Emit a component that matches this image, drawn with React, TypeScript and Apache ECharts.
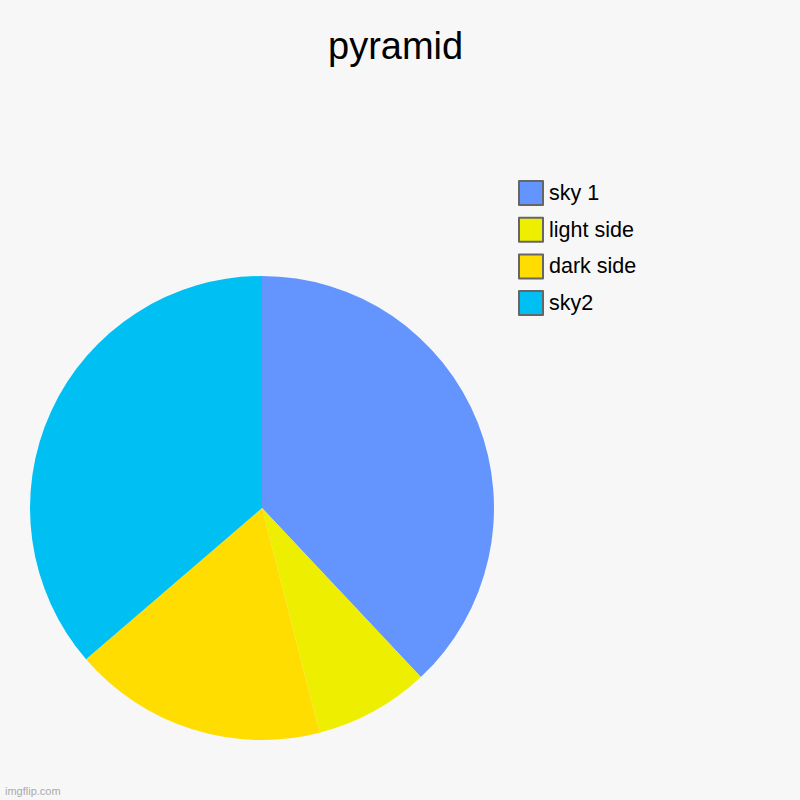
import React, { useEffect, useRef } from "react";
import * as echarts from "echarts";

const categories = ["sky 1", "light side", "dark side", "sky2"];
const values = [38, 8, 17.7, 36.3];
const colors = ["#6495ff", "#eeee00", "#ffdd00", "#00bff3"];
const titleText = "pyramid";
const watermark = "imgflip.com";

export default function App() {
  const ref = useRef<HTMLDivElement>(null);
  useEffect(() => {
    document.body.style.margin = "0";
    const chart = echarts.init(ref.current!, null, { renderer: "svg" });
    chart.setOption({
      animation: false,
      backgroundColor: "#f7f7f7",
      textStyle: { fontFamily: "Liberation Sans, Arial, sans-serif" },
      title: {
        text: titleText,
        left: 323,
        top: 22,
        textStyle: { fontSize: 38, fontWeight: "normal", color: "#000", fontFamily: "Liberation Sans, Arial, sans-serif" },
      },
      legend: {
        orient: "vertical",
        left: 518,
        top: 180,
        padding: 0,
        itemWidth: 24,
        itemHeight: 24,
        itemGap: 10.7,
        icon: "rect",
        selectedMode: false,
        itemStyle: { borderColor: "#666", borderWidth: 2 },
        textStyle: { fontSize: 21.5, color: "#000", fontFamily: "Liberation Sans, Arial, sans-serif", padding: [0, 0, 0, 1] },
        data: categories,
      },
      graphic: [
        {
          type: "text",
          left: 5,
          top: 785,
          style: { text: watermark, fill: "#aaa", fontSize: 11, fontFamily: "Liberation Sans, Arial, sans-serif" },
        },
      ],
      series: [
        {
          type: "pie",
          center: [262, 508],
          radius: 232,
          startAngle: 90,
          clockwise: true,
          label: { show: false },
          labelLine: { show: false },
          emphasis: { disabled: true },
          data: categories.map((name, i) => ({ name, value: values[i], itemStyle: { color: colors[i] } })),
        },
      ],
    });
    return () => chart.dispose();
  }, []);
  return <div ref={ref} style={{ width: 800, height: 800, position: "absolute", left: 0, top: 0 }} />;
}
